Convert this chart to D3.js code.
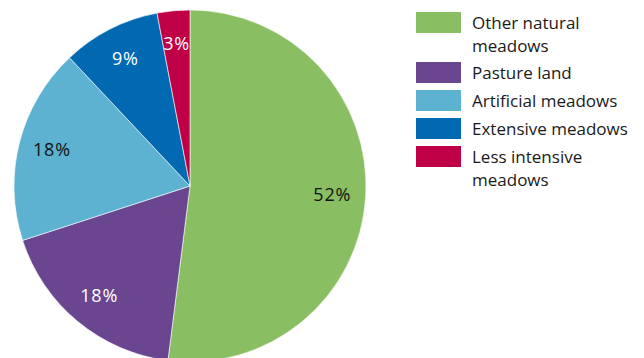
<!DOCTYPE html>
<html>
<head>
<meta charset="utf-8">
<script src="https://cdn.jsdelivr.net/npm/d3@7"></script>
<style>
  html, body { margin: 0; padding: 0; background: #fff; }
  svg { display: block; }
  text { font-family: "Open Sans", "DejaVu Sans", sans-serif; }
</style>
</head>
<body>
<svg id="chart" width="644" height="358"></svg>
<script>
// Grassland area by type (share of total, %)
const categories = ["Other natural meadows", "Pasture land", "Artificial meadows", "Extensive meadows", "Less intensive meadows"];
const legendLines = [["Other natural", "meadows"], ["Pasture land"], ["Artificial meadows"], ["Extensive meadows"], ["Less intensive", "meadows"]];
const values = [52, 18, 18, 9, 3];
const colors = ["#89be62", "#6a4690", "#5db1d1", "#0069b1", "#bf0046"];
const labelColors = ["#111", "#fff", "#111", "#fff", "#fff"];

const svg = d3.select("#chart");
const cx = 190, cy = 186, radius = 176;

const pie = d3.pie().sort(null).value(d => d)(values);
const arc = d3.arc().innerRadius(0).outerRadius(radius);
const labelArc = d3.arc().innerRadius(radius * 0.81).outerRadius(radius * 0.81);

const g = svg.append("g").attr("transform", `translate(${cx},${cy})`);

g.selectAll("path.slice")
  .data(pie)
  .join("path")
  .attr("class", "slice")
  .attr("d", arc)
  .attr("fill", (d, i) => colors[i])
  .attr("stroke", "#fff")
  .attr("stroke-width", 0.6);

g.selectAll("text.pct")
  .data(pie)
  .join("text")
  .attr("class", "pct")
  .attr("transform", d => `translate(${labelArc.centroid(d)})`)
  .attr("text-anchor", "middle")
  .attr("dy", "0.33em")
  .attr("font-size", 18)
  .attr("letter-spacing", 0.8)
  .attr("fill", (d, i) => labelColors[i])
  .text(d => d.data + "%");

// Legend
const legendX = 416, swW = 45, swH = 21;
const rowTops = [];
let y = 12;
legendLines.forEach(lines => {
  rowTops.push(y);
  y += lines.length > 1 ? 50 : 28;
});

const legend = svg.append("g");
const items = legend.selectAll("g.item")
  .data(categories)
  .join("g")
  .attr("class", "item")
  .attr("transform", (d, i) => `translate(${legendX},${rowTops[i]})`);

items.append("rect")
  .attr("width", swW)
  .attr("height", swH)
  .attr("fill", (d, i) => colors[i]);

items.each(function(d, i) {
  const t = d3.select(this).append("text")
    .attr("x", 56)
    .attr("y", 16.5)
    .attr("font-size", 17)
    .attr("fill", "#1a1a1a");
  legendLines[i].forEach((line, j) => {
    t.append("tspan").attr("x", 56).attr("dy", j === 0 ? 0 : 23).text(line);
  });
});
</script>
</body>
</html>
